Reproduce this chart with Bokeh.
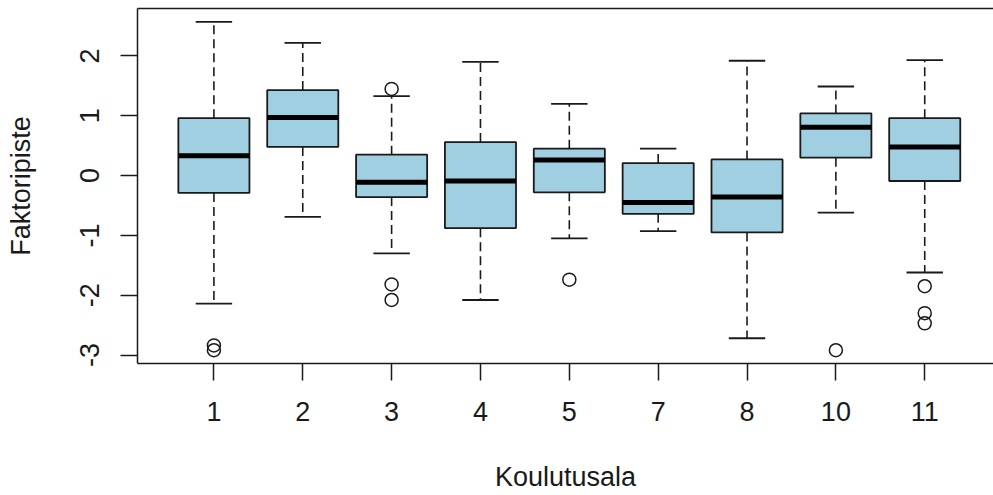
import numpy as np
from bokeh.plotting import figure
from bokeh.models import FixedTicker, LinearAxis, Range1d
from bokeh.embed import file_html
from bokeh.resources import INLINE

# Data
groups = ["1", "2", "3", "4", "5", "7", "8", "10", "11"]
lower_whisker = [-2.14, -0.69, -1.30, -2.08, -1.05, -0.93, -2.72, -0.62, -1.62]
q1 = [-0.29, 0.48, -0.36, -0.88, -0.28, -0.64, -0.95, 0.30, -0.09]
median = [0.33, 0.97, -0.11, -0.09, 0.26, -0.45, -0.36, 0.81, 0.48]
q3 = [0.96, 1.43, 0.35, 0.56, 0.45, 0.21, 0.27, 1.04, 0.96]
upper_whisker = [2.57, 2.22, 1.33, 1.90, 1.20, 0.45, 1.92, 1.49, 1.93]
outlier_group = [1, 1, 3, 3, 3, 5, 10, 11, 11, 11]
outlier_value = [-2.84, -2.92, 1.45, -1.82, -2.08, -1.74, -2.92, -1.85, -2.30, -2.47]
y_ticks = [-3, -2, -1, 0, 1, 2]
x_title = "Koulutusala"
y_title = "Faktoripiste"

pos = list(range(1, len(groups) + 1))
out_pos = [groups.index(str(g)) + 1 for g in outlier_group]

FONT = "Liberation Sans"
INK = "#1a1a1a"
FILL = "#9fcfe0"

Y0, Y1 = -3.142, 2.794
X0, X1 = 0.14, 9.774
p = figure(width=993, height=495, output_backend="svg", toolbar_location=None,
           x_range=Range1d(X0, X1), y_range=Range1d(Y0, Y1),
           min_border_left=137, min_border_right=0, min_border_top=8, min_border_bottom=132)
p.outline_line_color = None
p.xgrid.visible = False
p.ygrid.visible = False
p.background_fill_color = "white"
p.border_fill_color = "white"

bw = 0.8
cap = 0.41
half = bw / 2

# whiskers (dashed)
p.segment(x0=pos, y0=q3, x1=pos, y1=upper_whisker, line_color=INK, line_width=1.6, line_dash="9 5")
p.segment(x0=pos, y0=q1, x1=pos, y1=lower_whisker, line_color=INK, line_width=1.6, line_dash="9 5")
# staples
px = np.array(pos, dtype=float)
p.segment(x0=px - cap / 2, y0=upper_whisker, x1=px + cap / 2, y1=upper_whisker, line_color=INK, line_width=1.8)
p.segment(x0=px - cap / 2, y0=lower_whisker, x1=px + cap / 2, y1=lower_whisker, line_color=INK, line_width=1.8)
# boxes
p.vbar(x=pos, width=bw, top=q3, bottom=q1, fill_color=FILL, line_color=INK, line_width=1.8)
# medians
p.segment(x0=px - half, y0=median, x1=px + half, y1=median, line_color="black", line_width=5)
# outliers
p.scatter(x=out_pos, y=outlier_value, marker="circle", size=13, fill_color=None,
          line_color=INK, line_width=1.5)

# axes styling
xa = p.xaxis[0]
xa.ticker = FixedTicker(ticks=pos)
xa.major_label_overrides = {i: g for i, g in zip(pos, groups)}
ya = p.yaxis[0]
ya.ticker = FixedTicker(ticks=y_ticks)
ya.major_label_overrides = {t: str(t) for t in y_ticks}
ya.major_label_orientation = "parallel"

for ax in (xa, ya):
    ax.axis_line_color = INK
    ax.axis_line_width = 1.5
    ax.major_tick_line_color = INK
    ax.major_tick_line_width = 1.5
    ax.major_tick_out = 17
    ax.major_tick_in = 0
    ax.minor_tick_line_color = None
    ax.major_label_text_font = FONT
    ax.major_label_text_font_size = "27px"
    ax.major_label_text_color = INK
    ax.axis_label_text_font = FONT
    ax.axis_label_text_font_size = "27px"
    ax.axis_label_text_font_style = "normal"
    ax.axis_label_text_color = INK

xa.major_label_standoff = 21
ya.major_label_standoff = 21
ya.axis_label = y_title
ya.axis_label_standoff = 42

# second, tickless axis below that only carries the x title
xb = LinearAxis(ticker=FixedTicker(ticks=[]), axis_line_color=None,
                major_tick_line_color=None, minor_tick_line_color=None,
                major_tick_out=0, major_label_standoff=0, major_label_text_font_size="0px",
                axis_label=x_title, axis_label_standoff=38,
                axis_label_text_font=FONT, axis_label_text_font_size="27px",
                axis_label_text_font_style="normal", axis_label_text_color=INK)
p.add_layout(xb, "below")

# top frame line
top = LinearAxis(ticker=FixedTicker(ticks=[]), axis_line_color=INK, axis_line_width=1.5,
                 major_tick_line_color=None, minor_tick_line_color=None,
                 major_label_text_font_size="0px", major_label_standoff=0)
p.add_layout(top, "above")

open("out.html", "w").write(file_html(p, INLINE))
